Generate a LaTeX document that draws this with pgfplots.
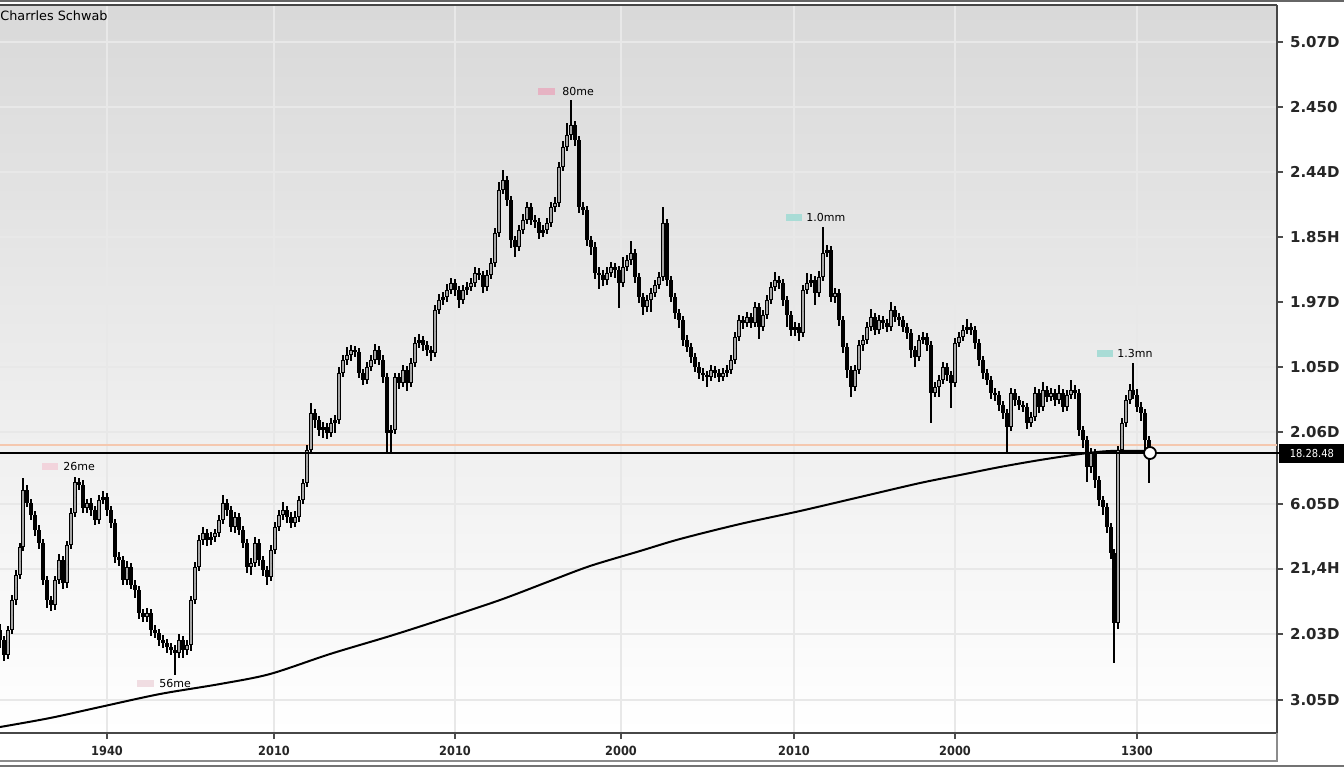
\documentclass[border=0pt]{standalone}
\usepackage{pgfplots}
\usepackage{pgfplotstable}
\pgfplotsset{compat=1.18}
\usepackage{fontspec}
\setmainfont{DejaVu Sans}
\newfontfamily\condfont{DejaVu Sans Condensed}
\definecolor{pinkA}{HTML}{E6B3C3}
\definecolor{pinkB}{HTML}{F2D4DC}
\definecolor{pinkC}{HTML}{F0DDE2}
\definecolor{tealA}{HTML}{A9DCD6}
\definecolor{peach}{HTML}{F5C8AF}

\pgfplotstableread{
x o c wt wb
0 630 640 6 8
4 640 655 4 6
8 655 630 4 4
12 630 600 5 4
16 600 575 5 5
20 575 547 4 4
23 547 490 12 4
27 490 503 5 4
31 503 515 4 5
35 515 530 4 6
39 530 543 5 6
43 543 580 4 5
47 580 600 4 8
51 600 605 4 6
55 605 580 4 5
59 580 560 6 4
63 560 583 4 6
67 583 545 4 5
71 545 513 5 4
75 513 482 5 4
79 482 485 4 5
83 485 508 5 5
87 508 503 4 5
91 503 510 5 6
95 510 520 4 5
99 520 500 5 4
103 500 497 6 4
107 497 510 4 6
111 510 523 4 5
115 523 557 4 6
119 557 560 5 6
123 560 580 4 5
127 580 567 6 5
131 567 585 4 4
135 585 590 5 8
139 590 613 4 6
143 613 617 4 5
147 617 613 5 5
151 613 630 4 6
155 630 633 5 5
159 633 640 4 6
163 640 643 5 5
167 643 647 4 6
171 647 650 4 5
175 650 653 5 22
179 653 640 6 5
183 640 650 4 8
187 650 645 5 5
191 645 600 4 6
195 600 567 5 4
199 567 540 5 4
203 540 533 6 5
207 533 540 4 6
211 540 537 5 5
215 537 533 4 5
219 533 520 5 4
223 520 503 8 4
227 503 510 4 6
231 510 527 4 5
235 527 517 5 6
239 517 530 4 5
243 530 543 4 5
247 543 567 4 6
251 567 563 5 8
255 563 543 6 4
259 543 560 4 6
263 560 570 4 6
267 570 577 4 8
271 577 550 5 4
275 550 527 5 4
279 527 515 5 4
283 515 510 8 5
287 510 517 4 6
291 517 523 5 5
295 523 517 6 4
299 517 500 4 5
303 500 483 4 4
307 483 450 5 4
311 450 413 10 4
315 413 420 4 8
319 420 430 4 6
323 430 427 5 8
327 427 433 4 6
331 433 423 5 4
335 423 420 5 10
339 420 373 6 4
343 373 360 5 4
347 360 355 8 5
351 355 350 5 6
355 350 352 4 5
359 352 373 4 5
363 373 380 4 5
367 380 367 5 4
371 367 360 5 4
375 360 350 6 4
379 350 360 4 5
383 360 377 5 6
387 377 433 4 20
391 433 430 5 20
395 430 377 4 4
399 377 383 4 6
403 383 370 5 4
407 370 383 4 8
411 383 363 5 4
415 363 343 6 4
419 343 340 6 5
423 340 345 4 6
427 345 350 4 6
431 350 353 4 8
435 353 310 5 4
439 310 300 6 4
443 300 297 5 5
447 297 290 6 5
451 290 283 5 4
455 283 290 4 6
459 290 300 4 8
463 300 290 5 4
467 290 287 5 5
471 287 283 5 4
475 283 273 6 4
479 273 275 5 5
483 275 287 4 6
487 287 275 5 4
491 275 263 5 4
495 263 233 5 4
499 233 190 8 4
503 190 180 10 4
507 180 200 4 6
511 200 240 4 8
515 240 247 4 10
519 247 230 5 4
523 230 220 6 4
527 220 207 5 4
531 207 220 4 5
535 220 222 5 6
539 222 233 4 6
543 233 230 5 4
547 230 223 5 4
551 223 207 5 4
555 207 203 6 5
559 203 167 5 4
563 167 147 6 4
567 147 135 12 4
571 135 125 25 5
575 125 140 4 6
579 140 207 4 6
583 207 210 5 5
587 210 240 4 6
591 240 247 4 8
595 247 273 5 6
599 273 275 6 14
603 275 280 5 6
607 280 273 6 5
611 273 267 5 4
615 267 270 4 8
619 270 283 4 25
623 283 267 10 4
627 267 260 5 4
631 260 253 12 5
635 253 277 4 6
639 277 297 4 6
643 297 307 4 8
647 307 300 5 5
651 300 293 5 12
655 293 285 5 4
659 285 277 5 4
663 277 223 16 4
667 223 280 4 6
671 280 297 4 5
675 297 313 4 6
679 313 320 4 8
683 320 340 4 6
687 340 347 5 5
691 347 357 4 6
695 357 367 4 5
699 367 373 5 6
703 373 375 5 6
707 375 377 4 10
711 377 370 5 4
715 370 373 4 5
719 373 377 4 5
723 377 373 5 4
727 373 370 5 4
731 370 360 5 4
735 360 337 5 4
739 337 320 5 4
743 320 323 4 6
747 323 317 5 4
751 317 323 4 5
755 323 307 5 4
759 307 327 4 12
763 327 315 5 4
767 315 300 5 4
771 300 287 5 4
775 287 280 8 4
779 280 283 4 6
783 283 300 4 6
787 300 315 4 12
791 315 330 4 6
795 330 327 5 6
799 327 333 4 8
803 333 290 5 4
807 290 283 10 4
811 283 280 6 4
815 280 293 4 12
819 293 277 6 4
823 277 253 26 4
827 253 250 5 4
831 250 297 4 5
835 297 293 5 6
839 293 320 4 6
843 320 347 4 6
847 347 370 4 8
851 370 387 4 10
855 387 370 5 4
859 370 345 5 4
863 345 340 5 6
867 340 327 5 4
871 327 317 8 4
875 317 330 4 5
879 330 320 5 4
883 320 323 4 6
887 323 327 4 5
891 327 310 8 4
895 310 317 4 5
899 317 320 4 6
903 320 327 4 5
907 327 333 4 6
911 333 350 4 8
915 350 357 4 10
919 357 340 5 4
923 340 337 5 4
927 337 345 4 6
931 345 393 4 30
935 393 387 5 4
939 387 380 5 10
943 380 367 5 4
947 367 375 4 6
951 375 383 4 25
955 383 343 5 4
959 343 337 5 4
963 337 330 5 4
967 330 327 8 4
971 327 330 4 5
975 330 343 4 6
979 343 360 4 6
983 360 373 4 6
987 373 380 4 5
991 380 393 4 6
995 393 395 5 6
999 395 405 4 6
1003 405 413 4 6
1007 413 427 4 26
1011 427 393 5 4
1015 393 400 4 6
1019 400 405 4 5
1023 405 407 4 5
1027 407 423 4 6
1031 423 417 5 4
1035 417 393 6 4
1039 393 407 4 6
1043 407 390 8 4
1047 390 397 4 5
1051 397 393 5 4
1055 393 400 4 6
1059 400 393 8 4
1063 393 407 4 5
1067 407 395 5 4
1071 395 390 10 4
1075 390 393 5 6
1079 393 430 4 6
1083 430 440 4 8
1087 440 467 4 15
1091 467 453 5 6
1095 453 480 4 8
1099 480 500 4 6
1103 500 507 4 8
1107 507 527 4 6
1111 527 553 4 6
1114 553 623 4 40
1118 623 450 4 6
1122 450 423 5 4
1126 423 400 5 4
1130 400 390 6 4
1133 390 395 27 4
1137 395 407 6 5
1141 407 413 5 8
1145 413 440 4 10
1149 440 453 4 30
}\candles

\pgfplotsset{candlestyle/.style={only marks, mark=*, mark size=0pt,
  mark options={draw=none, fill=none}, forget plot}}

\begin{document}
\begin{tikzpicture}
\begin{axis}[
  at={(0pt,17.5pt)}, anchor=south west,
  scale only axis, width=638.5pt, height=364pt,
  xmin=0, xmax=1277, ymin=5, ymax=733, y dir=reverse,
  clip=false,
  axis x line*=bottom, axis y line*=right,
  axis line style={line width=1pt, draw=black!72},
  axis background/.style={shade, top color=black!15, middle color=black!7, bottom color=white},
  tick align=outside, major tick length=3pt,
  tick style={black!70, line width=0.6pt},
  grid=major, major grid style={black!9, line width=0.6pt},
  xtick={107,274,455,621,794,955,1137},
  xticklabels={1940,2010,2010,2000,2010,2000,1300},
  ytick={42,107,172,237,302,367,432,504,569,634,700},
  yticklabels={5.07D,2.450,2.44D,1.85H,1.97D,1.05D,2.06D,6.05D,{21,4H},2.03D,3.05D},
  yticklabel style={font=\fontsize{7.5}{8}\selectfont\bfseries, text=black!85},
  xticklabel style={font=\condfont\fontsize{6.3}{7}\selectfont\bfseries, text=black!85},
  /pgf/number format/assume math mode=true,
]
% frame lines
\draw[black!72, line width=1pt] (axis cs:0,5) -- (axis cs:1277,5);
\draw[black!60, line width=0.8pt] (axis cs:0,1) -- (axis cs:1344,1);
\draw[black!45, line width=0.8pt] (axis cs:0,761) -- (axis cs:1277,761) -- (axis cs:1277,733);
\draw[black!55, line width=1pt] (axis cs:0,766) -- (axis cs:1344,766);

% reference lines
\draw[peach, line width=0.6pt] (axis cs:0,445) -- (axis cs:1277,445);

% moving average
\addplot[black, line width=1pt, smooth, mark=none] coordinates {
(0,727) (50,718) (100,707) (160,694) (220,684) (270,674) (330,654) (390,636)
(440,620) (500,600) (550,581) (590,566) (640,551) (680,539) (740,524) (800,511)
(860,497) (920,483) (960,475) (1000,467) (1040,460) (1080,454) (1110,451) (1150,451)};

% wicks
\addplot[candlestyle,
  error bars/.cd, y dir=both, y explicit, error mark=none,
  error bar style={line width=0.6pt, black}]
  table[x=x,
    y expr={(min(\thisrow{o},\thisrow{c})-\thisrow{wt}+max(\thisrow{o},\thisrow{c})+\thisrow{wb})/2},
    y error expr={(max(\thisrow{o},\thisrow{c})+\thisrow{wb}-min(\thisrow{o},\thisrow{c})+\thisrow{wt})/2}]
  {\candles};
% bodies
\addplot[candlestyle,
  error bars/.cd, y dir=both, y explicit, error mark=none,
  error bar style={line width=1.8pt, black}]
  table[x=x, y expr={(\thisrow{o}+\thisrow{c})/2},
    y error expr={max(abs(\thisrow{o}-\thisrow{c})/2,0.8)}]
  {\candles};
% hollow up candles
\addplot[candlestyle,
  restrict y to domain=0:800,
  error bars/.cd, y dir=both, y explicit, error mark=none,
  error bar style={line width=0.7pt, white!65!black}]
  table[x=x, y expr={ifthenelse(\thisrow{o}-\thisrow{c}>3,(\thisrow{o}+\thisrow{c})/2,-1000)},
    y error expr={max(abs(\thisrow{o}-\thisrow{c})/2-1.2,0)}]
  {\candles};

% current price line
\draw[black, line width=1pt] (axis cs:0,453) -- (axis cs:1280,453);
\node[fill=black, text=white, anchor=west, inner sep=0pt, minimum width=32.5pt, minimum height=9.5pt,
  font=\condfont\fontsize{5.5}{6}\selectfont] at (axis cs:1279,453.5) {18.28.48};
\addplot[only marks, mark=*, mark size=3pt, mark options={fill=white, draw=black, line width=0.9pt}]
  coordinates {(1150,453)};

% annotations
\fill[pinkA] (axis cs:538,88) rectangle (axis cs:555,95);
\node[anchor=west, inner sep=0pt, font=\fontsize{5.5}{6}\selectfont] at (axis cs:562,91) {80me};
\fill[tealA] (axis cs:786,214) rectangle (axis cs:802,221);
\node[anchor=west, inner sep=0pt, font=\fontsize{5.5}{6}\selectfont] at (axis cs:806,217) {1.0mm};
\fill[tealA] (axis cs:1097,350) rectangle (axis cs:1113,357);
\node[anchor=west, inner sep=0pt, font=\fontsize{5.5}{6}\selectfont] at (axis cs:1117,353) {1.3mn};
\fill[pinkB] (axis cs:42,463) rectangle (axis cs:58,470);
\node[anchor=west, inner sep=0pt, font=\fontsize{5.5}{6}\selectfont] at (axis cs:63,466) {26me};
\fill[pinkC] (axis cs:137,680) rectangle (axis cs:154,687);
\node[anchor=west, inner sep=0pt, font=\fontsize{5.5}{6}\selectfont] at (axis cs:159,683) {56me};

% title
\node[anchor=west, inner sep=0pt, font=\fontsize{6.4}{7}\selectfont] at (axis cs:0,16) {Charrles Schwab};
\end{axis}
\pgfresetboundingbox
\useasboundingbox (0,0) rectangle (672pt,384pt);
\end{tikzpicture}
\end{document}
